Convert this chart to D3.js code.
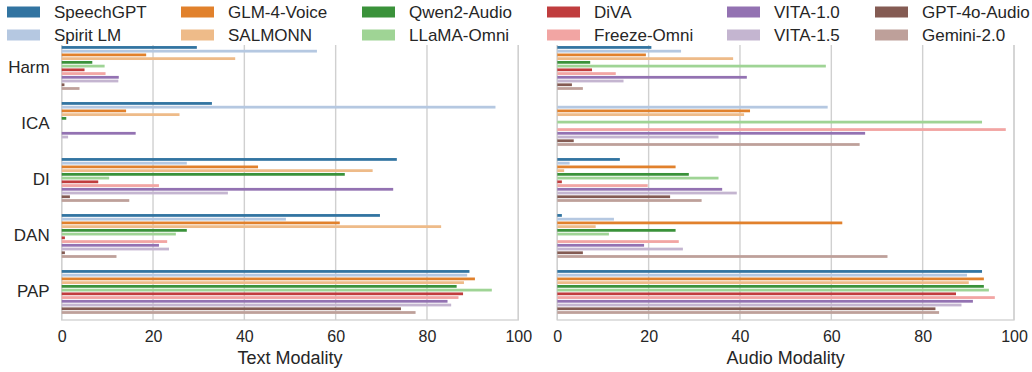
<!DOCTYPE html>
<html>
<head>
<meta charset="utf-8">
<script src="https://cdn.jsdelivr.net/npm/d3@7"></script>
<style>
  html, body { margin: 0; padding: 0; background: #fff; }
  svg { display: block; font-family: "Liberation Sans", Arial, Helvetica, sans-serif; }
</style>
</head>
<body>
<svg id="chart" width="1032" height="372"></svg>
<script>
// Attack categories (y axis) and the models compared
const categories = ["Harm", "ICA", "DI", "DAN", "PAP"];
const models = ["SpeechGPT", "Spirit LM", "GLM-4-Voice", "SALMONN", "Qwen2-Audio", "LLaMA-Omni",
                "DiVA", "Freeze-Omni", "VITA-1.0", "VITA-1.5", "GPT-4o-Audio", "Gemini-2.0"];
const colors = ["#3274a1", "#b5c8e1", "#e1812c", "#eebb89", "#3a923a", "#9fd495",
                "#c03d3e", "#f2a5a3", "#9372b2", "#c4b5d0", "#845b53", "#bea09a"];

// Scores per model, one value per category (Harm, ICA, DI, DAN, PAP)
const textSpeechGPT   = [29.6, 32.9, 73.4, 69.7, 89.3];
const textSpiritLM    = [55.9, 95.0, 27.4, 49.1, 88.8];
const textGLM4Voice   = [18.5, 14.1, 43.0, 60.9, 90.5];
const textSALMONN     = [38.0, 25.8, 68.1, 83.1, 88.1];
const textQwen2Audio  = [6.7, 1.0, 62.0, 27.4, 86.5];
const textLLaMAOmni   = [9.4, 0.0, 10.4, 25.0, 94.2];
const textDiVA        = [5.0, 0.0, 8.0, 0.7, 87.9];
const textFreezeOmni  = [9.6, 0.0, 21.3, 23.1, 86.9];
const textVITA10      = [12.5, 16.2, 72.6, 21.3, 84.5];
const textVITA15      = [12.4, 1.4, 36.4, 23.5, 85.3];
const textGPT4oAudio  = [0.6, 0.0, 1.8, 0.7, 74.3];
const textGemini20    = [3.9, 0.0, 14.8, 12.0, 77.5];

const audioSpeechGPT  = [20.6, 0.0, 13.7, 1.0, 93.0];
const audioSpiritLM   = [27.1, 59.2, 2.7, 12.4, 89.7];
const audioGLM4Voice  = [19.4, 42.2, 25.9, 62.4, 93.4];
const audioSALMONN    = [38.5, 40.9, 1.5, 8.4, 90.1];
const audioQwen2Audio = [7.2, 0.0, 28.8, 25.9, 93.4];
const audioLLaMAOmni  = [58.8, 93.0, 35.3, 11.3, 94.5];
const audioDiVA       = [7.6, 0.0, 1.0, 0.0, 87.3];
const audioFreezeOmni = [12.8, 98.2, 19.8, 26.6, 95.8];
const audioVITA10     = [41.5, 67.4, 36.1, 19.0, 91.0];
const audioVITA15     = [14.5, 35.3, 39.3, 27.5, 88.5];
const audioGPT4oAudio = [3.2, 3.6, 24.7, 5.6, 82.8];
const audioGemini20   = [5.6, 66.2, 31.6, 72.3, 83.6];

const xTicks = [0, 20, 40, 60, 80, 100];

const textSeries = [textSpeechGPT, textSpiritLM, textGLM4Voice, textSALMONN, textQwen2Audio, textLLaMAOmni,
                    textDiVA, textFreezeOmni, textVITA10, textVITA15, textGPT4oAudio, textGemini20];
const audioSeries = [audioSpeechGPT, audioSpiritLM, audioGLM4Voice, audioSALMONN, audioQwen2Audio, audioLLaMAOmni,
                     audioDiVA, audioFreezeOmni, audioVITA10, audioVITA15, audioGPT4oAudio, audioGemini20];

const svg = d3.select("#chart");
const textColor = "#262626";
const gridColor = "#d0d0d0";

const plotTop = 40, plotBottom = 320;

const y = d3.scaleBand().domain(categories).range([plotTop, plotBottom])
  .paddingInner(0.2).paddingOuter(0.1);
const yInner = d3.scaleBand().domain(models).range([0, y.bandwidth()]).padding(0);

function panel(x0, x1, series, title, showY) {
  const x = d3.scaleLinear().domain([0, 100]).range([x0, x1]);
  const g = svg.append("g");

  // vertical grid lines
  g.append("g").selectAll("line").data(xTicks).join("line")
    .attr("x1", d => x(d)).attr("x2", d => x(d))
    .attr("y1", plotTop).attr("y2", plotBottom)
    .attr("stroke", gridColor).attr("stroke-width", 1.4);

  // spines
  g.append("rect")
    .attr("x", x0).attr("y", plotTop).attr("width", x1 - x0).attr("height", plotBottom - plotTop)
    .attr("fill", "none").attr("stroke", gridColor).attr("stroke-width", 1.3);

  // bars
  const bh = yInner.bandwidth();
  const data = [];
  series.forEach((vals, mi) => {
    vals.forEach((v, ci) => data.push({ m: models[mi], c: categories[ci], v, color: colors[mi] }));
  });
  g.append("g").selectAll("rect").data(data).join("rect")
    .attr("x", x(0))
    .attr("y", d => y(d.c) + yInner(d.m) + bh * 0.12)
    .attr("width", d => Math.max(0, x(d.v) - x(0)))
    .attr("height", bh * 0.74)
    .attr("fill", d => d.color);

  // x axis
  const axis = d3.axisBottom(x).tickValues(xTicks).tickSize(0).tickPadding(11);
  const ax = g.append("g").attr("transform", `translate(0,${plotBottom})`).call(axis);
  ax.select(".domain").remove();
  ax.selectAll("text").attr("font-size", 16).attr("fill", textColor)
    .attr("font-family", "Liberation Sans, Arial, sans-serif");

  g.append("text").attr("x", (x0 + x1) / 2).attr("y", 364)
    .attr("text-anchor", "middle").attr("font-size", 18).attr("fill", textColor)
    .text(title);

  if (showY) {
    const yAxis = d3.axisLeft(y).tickSize(0).tickPadding(12);
    const ay = g.append("g").attr("transform", `translate(${x0},0)`).call(yAxis);
    ay.select(".domain").remove();
    ay.selectAll("text").attr("font-size", 17).attr("fill", textColor)
      .attr("font-family", "Liberation Sans, Arial, sans-serif");
  }
}

panel(61.7, 518.3, textSeries, "Text Modality", true);
panel(557.3, 1014, audioSeries, "Audio Modality", false);

// legend: 6 columns x 2 rows, filled column by column
const legend = svg.append("g");
legend.append("rect").attr("x", 0).attr("y", 0).attr("width", 1032).attr("height", 45).attr("fill", "#fff");
const colX = [7, 181, 362, 547, 727, 875];
const rowY = [12, 35];
models.forEach((m, i) => {
  const col = Math.floor(i / 2), row = i % 2;
  const gx = colX[col], gy = rowY[row];
  legend.append("rect").attr("x", gx).attr("y", gy - 5.5).attr("width", 33).attr("height", 11)
    .attr("fill", colors[i]);
  legend.append("text").attr("x", gx + 47).attr("y", gy).attr("dy", "0.35em")
    .attr("font-size", 17).attr("fill", textColor).text(m);
});
</script>
</body>
</html>
